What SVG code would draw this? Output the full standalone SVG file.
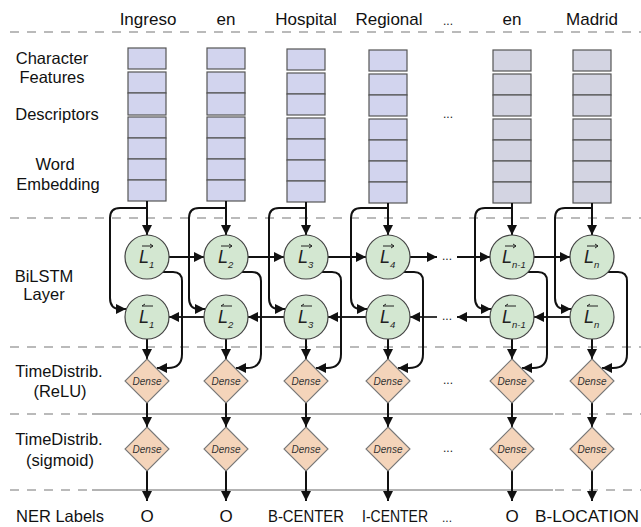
<svg xmlns="http://www.w3.org/2000/svg" width="641" height="527" viewBox="0 0 641 527">
<defs>
<style>
.lbl{font-family:"Liberation Sans",Arial,sans-serif;font-size:16.5px;fill:#111;text-anchor:middle}
.word{font-family:"Liberation Sans",Arial,sans-serif;font-size:17px;fill:#111;text-anchor:middle}
.dots{font-family:"Liberation Sans",Arial,sans-serif;font-size:12px;fill:#222;text-anchor:middle}
.box{fill:#d2d4ee;stroke:#555;stroke-width:1.2}
.box2{fill:#d3d4e2;stroke:#555;stroke-width:1.2}
.cir{fill:#d3e7d1;stroke:#444;stroke-width:1.2}
.dia{fill:#f4d4ba;stroke:#777;stroke-width:1.1}
.dtx{font-family:"Liberation Sans",Arial,sans-serif;font-size:10px;font-style:italic;fill:#333;text-anchor:middle}
.L{font-family:"Liberation Sans",Arial,sans-serif;font-size:18px;font-style:italic;fill:#222}
.sub{font-family:"Liberation Sans",Arial,sans-serif;font-size:9.5px;font-style:italic;fill:#222}
.ov{fill:none;stroke:#222;stroke-width:1}
.dash{stroke:#777;stroke-width:1.2;stroke-dasharray:9 8;fill:none}
.solid{stroke:#9a9a9a;stroke-width:1.5;fill:none}
.c{fill:none;stroke:#111;stroke-width:2;marker-end:url(#ah)}
.cb{fill:none;stroke:#222;stroke-width:1.8;marker-end:url(#ah)}
</style>
<marker id="ah" markerUnits="userSpaceOnUse" markerWidth="11" markerHeight="10" refX="10" refY="5" orient="auto"><path d="M0,0 L10,5 L0,10 z" fill="#111"/></marker>
</defs>
<rect width="641" height="527" fill="#fff"/>

<g id="separators">
<line class="dash" x1="10" y1="32" x2="641" y2="32"/>
<line class="dash" x1="10" y1="218" x2="641" y2="218"/>
<line class="dash" x1="10" y1="347" x2="641" y2="347"/>
<line class="dash" x1="10" y1="414" x2="92" y2="414"/>
<line class="solid" x1="92" y1="414" x2="553" y2="414"/>
<line class="dash" x1="555" y1="414" x2="641" y2="414"/>
<line class="dash" x1="10" y1="490" x2="92" y2="490"/>
<line class="solid" x1="92" y1="490" x2="553" y2="490"/>
<line class="dash" x1="555" y1="490" x2="641" y2="490"/>
</g>

<g id="row-labels">
<text class="lbl" x="52" y="64">Character</text>
<text class="lbl" x="52" y="83">Features</text>
<text class="lbl" x="57" y="120">Descriptors</text>
<text class="lbl" x="55" y="170">Word</text>
<text class="lbl" x="58" y="190">Embedding</text>
<text class="lbl" x="44" y="282">BiLSTM</text>
<text class="lbl" x="44" y="300">Layer</text>
<text class="lbl" x="59" y="377">TimeDistrib.</text>
<text class="lbl" x="60" y="397">(ReLU)</text>
<text class="lbl" x="59" y="445">TimeDistrib.</text>
<text class="lbl" x="60" y="466">(sigmoid)</text>
<text class="lbl" x="60" y="522">NER Labels</text>
</g>

<g id="words">
<text class="word" x="148" y="25">Ingreso</text>
<text class="word" x="226" y="25">en</text>
<text class="word" x="306" y="25">Hospital</text>
<text class="word" x="389" y="25">Regional</text>
<text class="dots" x="448" y="25">...</text>
<text class="word" x="512" y="25">en</text>
<text class="word" x="592" y="25">Madrid</text>
</g>

<g id="features-1"><rect class="box" x="128" y="48" width="38" height="21"/><rect class="box" x="128" y="72" width="38" height="21"/><rect class="box" x="128" y="93" width="38" height="22"/><rect class="box" x="128" y="117" width="38" height="21"/><rect class="box" x="128" y="138" width="38" height="21"/><rect class="box" x="128" y="159" width="38" height="21"/><rect class="box" x="128" y="180" width="38" height="21"/></g>
<g id="features-2"><rect class="box" x="207" y="48" width="38" height="21"/><rect class="box" x="207" y="72" width="38" height="21"/><rect class="box" x="207" y="93" width="38" height="22"/><rect class="box" x="207" y="117" width="38" height="21"/><rect class="box" x="207" y="138" width="38" height="21"/><rect class="box" x="207" y="159" width="38" height="21"/><rect class="box" x="207" y="180" width="38" height="21"/></g>
<g id="features-3"><rect class="box" x="287" y="49" width="38" height="21"/><rect class="box" x="287" y="73" width="38" height="21"/><rect class="box" x="287" y="94" width="38" height="21"/><rect class="box" x="287" y="118" width="38" height="21"/><rect class="box" x="287" y="139" width="38" height="21"/><rect class="box" x="287" y="160" width="38" height="21"/><rect class="box" x="287" y="181" width="38" height="21"/></g>
<g id="features-4"><rect class="box" x="369" y="50" width="38" height="21"/><rect class="box" x="369" y="74" width="38" height="21"/><rect class="box" x="369" y="95" width="38" height="21"/><rect class="box" x="369" y="119" width="38" height="21"/><rect class="box" x="369" y="140" width="38" height="21"/><rect class="box" x="369" y="161" width="38" height="21"/><rect class="box" x="369" y="182" width="38" height="21"/></g>
<text class="dots" x="448" y="118">...</text>
<g id="features-5"><rect class="box2" x="493" y="50" width="38" height="21"/><rect class="box2" x="493" y="74" width="38" height="21"/><rect class="box2" x="493" y="95" width="38" height="21"/><rect class="box2" x="493" y="119" width="38" height="21"/><rect class="box2" x="493" y="140" width="38" height="21"/><rect class="box2" x="493" y="161" width="38" height="21"/><rect class="box2" x="493" y="182" width="38" height="21"/></g>
<g id="features-6"><rect class="box2" x="573" y="50" width="38" height="21"/><rect class="box2" x="573" y="74" width="38" height="21"/><rect class="box2" x="573" y="95" width="38" height="21"/><rect class="box2" x="573" y="119" width="38" height="21"/><rect class="box2" x="573" y="140" width="38" height="21"/><rect class="box2" x="573" y="161" width="38" height="21"/><rect class="box2" x="573" y="182" width="38" height="21"/></g>

<g id="connectors">
<path class="c" d="M147,201 V235"/>
<path class="c" d="M226,201 V235"/>
<path class="c" d="M306,202 V235"/>
<path class="c" d="M388,203 V235"/>
<path class="c" d="M512,203 V235"/>
<path class="c" d="M592,203 V235"/>
<path class="c" d="M147,208 H120 Q110,208 110,218 V298 Q110,309 120,309 H126"/>
<path class="c" d="M226,208 H199 Q189,208 189,218 V298 Q189,309 199,309 H205"/>
<path class="c" d="M306,208 H279 Q269,208 269,218 V298 Q269,309 279,309 H285"/>
<path class="c" d="M388,208 H361 Q351,208 351,218 V298 Q351,309 361,309 H367"/>
<path class="c" d="M512,208 H485 Q475,208 475,218 V298 Q475,309 485,309 H491"/>
<path class="c" d="M592,208 H565 Q555,208 555,218 V298 Q555,309 565,309 H571"/>
<path class="c" d="M169,257 H204"/>
<path class="c" d="M248,257 H284"/>
<path class="c" d="M328,257 H366"/>
<path class="c" d="M410,257 H437"/>
<path class="c" d="M457,257 H490"/>
<path class="c" d="M534,257 H570"/>
<path class="cb" d="M204,317 H169"/>
<path class="cb" d="M284,317 H248"/>
<path class="cb" d="M366,317 H328"/>
<path class="cb" d="M437,317 H410"/>
<path class="cb" d="M490,317 H457"/>
<path class="cb" d="M570,317 H534"/>
<path class="c" d="M162,272 H173 Q182,272 182,281 V354 Q182,368 168,368 H157"/>
<path class="c" d="M241,272 H252 Q261,272 261,281 V354 Q261,368 247,368 H236"/>
<path class="c" d="M321,272 H332 Q341,272 341,281 V354 Q341,368 327,368 H316"/>
<path class="c" d="M403,272 H414 Q423,272 423,281 V354 Q423,368 409,368 H398"/>
<path class="c" d="M527,272 H538 Q547,272 547,281 V354 Q547,368 533,368 H522"/>
<path class="c" d="M607,272 H618 Q627,272 627,281 V354 Q627,368 613,368 H602"/>
<path class="c" d="M147,339 V359"/>
<path class="c" d="M226,339 V359"/>
<path class="c" d="M306,339 V359"/>
<path class="c" d="M388,339 V359"/>
<path class="c" d="M512,339 V359"/>
<path class="c" d="M592,339 V359"/>
<path class="c" d="M147,403 V427"/>
<path class="c" d="M226,403 V427"/>
<path class="c" d="M306,403 V427"/>
<path class="c" d="M388,403 V427"/>
<path class="c" d="M512,403 V427"/>
<path class="c" d="M592,403 V427"/>
<path class="c" d="M147,471 V501"/>
<path class="c" d="M226,471 V501"/>
<path class="c" d="M306,471 V501"/>
<path class="c" d="M388,471 V501"/>
<path class="c" d="M512,471 V501"/>
<path class="c" d="M592,471 V501"/>
<text class="dots" x="447" y="260">...</text>
<text class="dots" x="447" y="320">...</text>
</g>

<g id="fwd-1"><circle class="cir" cx="147" cy="257" r="22"/><text class="L" x="139" y="263">L</text><text class="sub" x="149" y="268">1</text><path class="ov" d="M142,246 H153 M150,244 L153,246 L150,248"/></g>
<g id="fwd-2"><circle class="cir" cx="226" cy="257" r="22"/><text class="L" x="218" y="263">L</text><text class="sub" x="228" y="268">2</text><path class="ov" d="M221,246 H232 M229,244 L232,246 L229,248"/></g>
<g id="fwd-3"><circle class="cir" cx="306" cy="257" r="22"/><text class="L" x="298" y="263">L</text><text class="sub" x="308" y="268">3</text><path class="ov" d="M301,246 H312 M309,244 L312,246 L309,248"/></g>
<g id="fwd-4"><circle class="cir" cx="388" cy="257" r="22"/><text class="L" x="380" y="263">L</text><text class="sub" x="390" y="268">4</text><path class="ov" d="M383,246 H394 M391,244 L394,246 L391,248"/></g>
<g id="fwd-n1"><circle class="cir" cx="512" cy="257" r="22"/><text class="L" x="502" y="263">L</text><text class="sub" x="512" y="268">n-1</text><path class="ov" d="M505,246 H516 M513,244 L516,246 L513,248"/></g>
<g id="fwd-n"><circle class="cir" cx="592" cy="257" r="22"/><text class="L" x="584" y="263">L</text><text class="sub" x="594" y="268">n</text><path class="ov" d="M587,246 H598 M595,244 L598,246 L595,248"/></g>

<g id="bwd-1"><circle class="cir" cx="147" cy="317" r="22"/><text class="L" x="139" y="323">L</text><text class="sub" x="149" y="328">1</text><path class="ov" d="M142,306 H153 M145,304 L142,306"/></g>
<g id="bwd-2"><circle class="cir" cx="226" cy="317" r="22"/><text class="L" x="218" y="323">L</text><text class="sub" x="228" y="328">2</text><path class="ov" d="M221,306 H232 M224,304 L221,306"/></g>
<g id="bwd-3"><circle class="cir" cx="306" cy="317" r="22"/><text class="L" x="298" y="323">L</text><text class="sub" x="308" y="328">3</text><path class="ov" d="M301,306 H312 M304,304 L301,306"/></g>
<g id="bwd-4"><circle class="cir" cx="388" cy="317" r="22"/><text class="L" x="380" y="323">L</text><text class="sub" x="390" y="328">4</text><path class="ov" d="M383,306 H394 M386,304 L383,306"/></g>
<g id="bwd-n1"><circle class="cir" cx="512" cy="317" r="22"/><text class="L" x="502" y="323">L</text><text class="sub" x="512" y="328">n-1</text><path class="ov" d="M505,306 H516 M508,304 L505,306"/></g>
<g id="bwd-n"><circle class="cir" cx="592" cy="317" r="22"/><text class="L" x="584" y="323">L</text><text class="sub" x="594" y="328">n</text><path class="ov" d="M587,306 H598 M590,304 L587,306"/></g>

<g id="relu-1"><path class="dia" d="M147,359 L169,381 L147,403 L125,381 Z"/><text class="dtx" x="147" y="384.5">Dense</text></g>
<g id="relu-2"><path class="dia" d="M226,359 L248,381 L226,403 L204,381 Z"/><text class="dtx" x="226" y="384.5">Dense</text></g>
<g id="relu-3"><path class="dia" d="M306,359 L328,381 L306,403 L284,381 Z"/><text class="dtx" x="306" y="384.5">Dense</text></g>
<g id="relu-4"><path class="dia" d="M388,359 L410,381 L388,403 L366,381 Z"/><text class="dtx" x="388" y="384.5">Dense</text></g>
<text class="dots" x="448" y="384">...</text>
<g id="relu-5"><path class="dia" d="M512,359 L534,381 L512,403 L490,381 Z"/><text class="dtx" x="512" y="384.5">Dense</text></g>
<g id="relu-6"><path class="dia" d="M592,359 L614,381 L592,403 L570,381 Z"/><text class="dtx" x="592" y="384.5">Dense</text></g>

<g id="sig-1"><path class="dia" d="M147,427 L169,449 L147,471 L125,449 Z"/><text class="dtx" x="147" y="452.5">Dense</text></g>
<g id="sig-2"><path class="dia" d="M226,427 L248,449 L226,471 L204,449 Z"/><text class="dtx" x="226" y="452.5">Dense</text></g>
<g id="sig-3"><path class="dia" d="M306,427 L328,449 L306,471 L284,449 Z"/><text class="dtx" x="306" y="452.5">Dense</text></g>
<g id="sig-4"><path class="dia" d="M388,427 L410,449 L388,471 L366,449 Z"/><text class="dtx" x="388" y="452.5">Dense</text></g>
<text class="dots" x="448" y="452">...</text>
<g id="sig-5"><path class="dia" d="M512,427 L534,449 L512,471 L490,449 Z"/><text class="dtx" x="512" y="452.5">Dense</text></g>
<g id="sig-6"><path class="dia" d="M592,427 L614,449 L592,471 L570,449 Z"/><text class="dtx" x="592" y="452.5">Dense</text></g>

<g id="ner-labels">
<text class="word" x="147" y="522">O</text>
<text class="word" x="226" y="522">O</text>
<text class="word" x="306" y="522" textLength="76" lengthAdjust="spacingAndGlyphs">B-CENTER</text>
<text class="word" x="395" y="522" textLength="66" lengthAdjust="spacingAndGlyphs">I-CENTER</text>
<text class="dots" x="447" y="522">...</text>
<text class="word" x="512" y="522">O</text>
<text class="word" x="587" y="522" textLength="104" lengthAdjust="spacingAndGlyphs">B-LOCATION</text>
</g>
</svg>
